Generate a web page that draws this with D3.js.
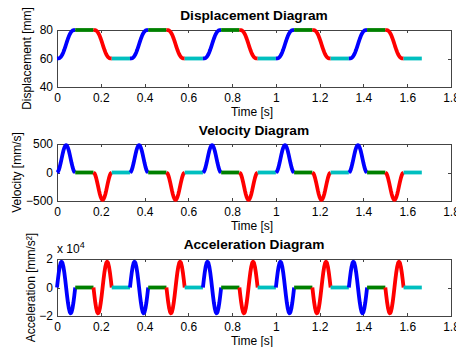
<!DOCTYPE html>
<html><head><meta charset="utf-8">
<script src="https://cdn.jsdelivr.net/npm/d3@7"></script>
<style>
body{margin:0;background:#fff;}
svg{display:block;font-family:"Liberation Sans",Arial,Helvetica,sans-serif;}
</style></head>
<body>
<svg id="chart" width="456" height="347"></svg>
<script>
// ---- data ----
const cycleStarts = [0, 0.33333, 0.66667, 1.0, 1.33333];
const segDuration = 0.083333;
const segOrder = ["rise", "dwellHigh", "return", "dwellLow"];
const segColors = {rise: "#0000ff", dwellHigh: "#008000", return: "#ff0000", dwellLow: "#00bfbf"};
// normalized sample positions inside a segment (0..1)
const uSamples = [0,0.05,0.1,0.15,0.2,0.25,0.3,0.35,0.4,0.45,0.5,0.55,0.6,0.65,0.7,0.75,0.8,0.85,0.9,0.95,1];
const uDwell = [0, 1];
// displacement [mm]
const dispRise   = [60,60.02,60.13,60.42,60.97,61.82,62.97,64.42,66.13,68.02,70,71.98,73.87,75.58,77.03,78.18,79.03,79.58,79.87,79.98,80];
const dispReturn = [80,79.98,79.87,79.58,79.03,78.18,77.03,75.58,73.87,71.98,70,68.02,66.13,64.42,62.97,61.82,60.97,60.42,60.13,60.02,60];
const dispHigh = [80, 80];
const dispLow  = [60, 60];
// velocity [mm/s]
const velRise   = [0,11.7,45.8,98.9,165.8,240,314.2,381.1,434.2,468.3,480,468.3,434.2,381.1,314.2,240,165.8,98.9,45.8,11.7,0];
const velReturn = [0,-11.7,-45.8,-98.9,-165.8,-240,-314.2,-381.1,-434.2,-468.3,-480,-468.3,-434.2,-381.1,-314.2,-240,-165.8,-98.9,-45.8,-11.7,0];
const velDwell = [0, 0];
// acceleration [x10^4 mm/s^2]
const accRise   = [0,0.559,1.064,1.464,1.721,1.81,1.721,1.464,1.064,0.559,0,-0.559,-1.064,-1.464,-1.721,-1.81,-1.721,-1.464,-1.064,-0.559,0];
const accReturn = [0,-0.559,-1.064,-1.464,-1.721,-1.81,-1.721,-1.464,-1.064,-0.559,0,0.559,1.064,1.464,1.721,1.81,1.721,1.464,1.064,0.559,0];
const accDwell = [0, 0];
// ticks
const xTicks = [0,0.2,0.4,0.6,0.8,1,1.2,1.4,1.6,1.8];
const xTickLabels = ["0","0.2","0.4","0.6","0.8","1","1.2","1.4","1.6","1.8"];
const dispTicks = [40,60,80];
const velTicks = [-500,0,500];
const accTicks = [-2,0,2];

const panels = [
  {title:"Displacement Diagram", ylabel:"Displacement [mm]", top:30, bottom:87, domain:[40,80], ticks:dispTicks,
   segs:{rise:dispRise, dwellHigh:dispHigh, return:dispReturn, dwellLow:dispLow}, titleY:20, ylabX:31.3},
  {title:"Velocity Diagram", ylabel:"Velocity [mm/s]", top:144, bottom:201, domain:[-500,500], ticks:velTicks,
   segs:{rise:velRise, dwellHigh:velDwell, return:velReturn, dwellLow:velDwell}, titleY:135, ylabX:21.3},
  {title:"Acceleration Diagram", ylabel:"Acceleration [mm/s²]", top:259, bottom:316, domain:[-2,2], ticks:accTicks,
   segs:{rise:accRise, dwellHigh:accDwell, return:accReturn, dwellLow:accDwell}, titleY:249, ylabX:35.3, exp:true}
];

const svg = d3.select("#chart");
const left = 57, right = 451;
const x = d3.scaleLinear().domain([0,1.8]).range([left,right]);
const fs = 12;

panels.forEach(p => {
  const y = d3.scaleLinear().domain(p.domain).range([p.bottom,p.top]);
  const g = svg.append("g");
  // axes
  const axB = d3.axisBottom(x).tickValues(xTicks).tickFormat((d,i)=>xTickLabels[i]).tickSizeInner(-3).tickSizeOuter(0).tickPadding(6);
  const axT = d3.axisTop(x).tickValues(xTicks).tickFormat("").tickSizeInner(-3).tickSizeOuter(0);
  const axL = d3.axisLeft(y).tickValues(p.ticks).tickFormat(d3.format("d")).tickSizeInner(-3).tickSizeOuter(0).tickPadding(4);
  const axR = d3.axisRight(y).tickValues(p.ticks).tickFormat("").tickSizeInner(-3).tickSizeOuter(0);
  [[axB,`translate(0,${p.bottom})`],[axT,`translate(0,${p.top})`],[axL,`translate(${left},0)`],[axR,`translate(${right},0)`]].forEach(([ax,tr])=>{
    const a = g.append("g").attr("transform",tr).call(ax);
    a.select(".domain").remove();
    a.selectAll("line").attr("stroke","#444").attr("shape-rendering","crispEdges");
    a.selectAll("text").attr("font-size",fs).attr("fill","#000").attr("font-family","Liberation Sans, Arial, sans-serif");
  });
  g.append("rect").attr("x",left+0.5).attr("y",p.top+0.5).attr("width",right-left).attr("height",p.bottom-p.top)
    .attr("fill","none").attr("stroke","#444").attr("stroke-width",1).attr("shape-rendering","crispEdges");
  // title
  g.append("text").attr("x",(left+right)/2).attr("y",p.titleY).attr("text-anchor","middle")
    .attr("font-size",13.7).attr("font-weight","bold").attr("fill","#000").text(p.title);
  // x label
  g.append("text").attr("x",(left+right)/2 - 2).attr("y",p.bottom+28.5).attr("text-anchor","middle")
    .attr("font-size",fs).attr("fill","#000").text("Time [s]");
  // y label
  g.append("text").attr("transform",`translate(${p.ylabX},${(p.top+p.bottom)/2}) rotate(-90)`).attr("text-anchor","middle")
    .attr("font-size",fs).attr("fill","#000").text(p.ylabel);
  if (p.exp) {
    const t = g.append("text").attr("x",left).attr("y",p.top-6.5).attr("font-size",fs).attr("fill","#000");
    t.append("tspan").text("x 10");
    t.append("tspan").attr("dy",-5).attr("font-size",9).text("4");
  }
  // curves
  const line = d3.line().x(d=>x(d[0])).y(d=>y(d[1]));
  cycleStarts.forEach(c0 => {
    segOrder.forEach((s,k) => {
      const vals = p.segs[s];
      const us = vals.length === 2 ? uDwell : uSamples;
      const pts = vals.map((v,i)=>[c0 + k*segDuration + us[i]*segDuration, v]);
      g.append("path").attr("d",line(pts)).attr("fill","none").attr("stroke",segColors[s])
        .attr("stroke-width",3.8).attr("stroke-linejoin","round").attr("stroke-linecap","butt");
    });
  });
});
</script>
</body></html>
